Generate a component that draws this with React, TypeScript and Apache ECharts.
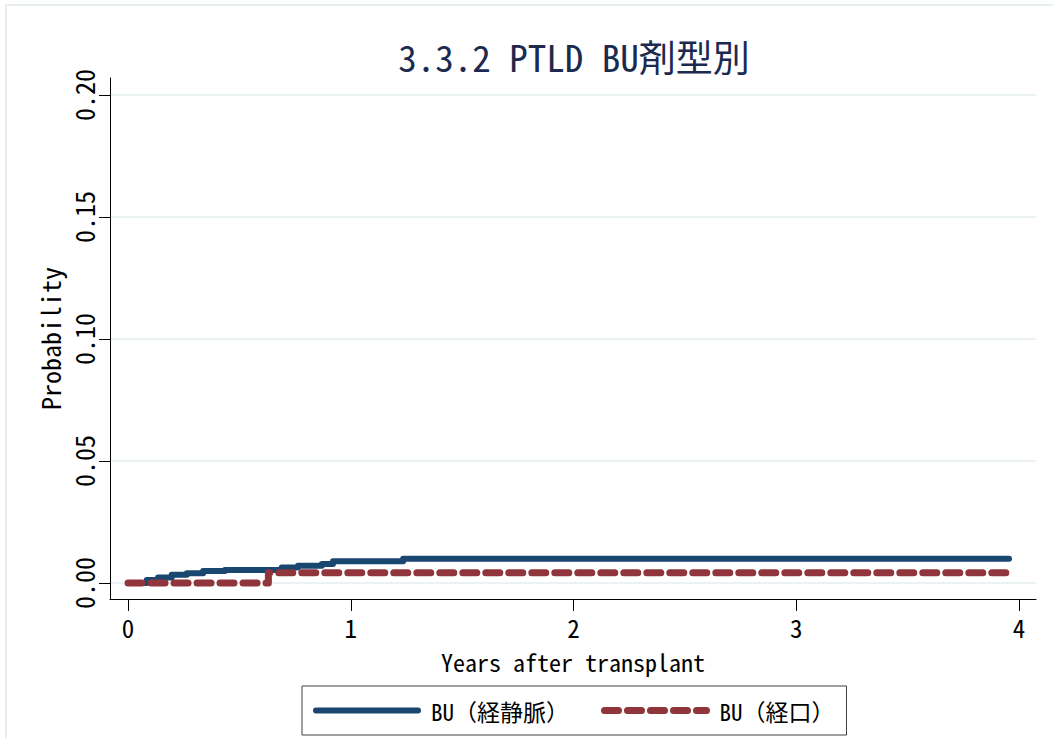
import React, { useEffect, useRef } from "react";
import * as echarts from "echarts";

const titleText = "3.3.2 PTLD BU剤型別";
const xAxisName = "Years after transplant";
const yAxisName = "Probability";
const xTicks = [0, 1, 2, 3, 4];
const yTicks = [0, 0.05, 0.1, 0.15, 0.2];

const seriesNames = ["BU（経静脈）", "BU（経口）"];

// BU (IV) cumulative incidence step function
const ivTimes = [0, 0.084, 0.135, 0.196, 0.264, 0.337, 0.435, 0.69, 0.763, 0.87, 0.92, 1.235, 3.955];
const ivValues = [0, 0.0012, 0.0022, 0.0033, 0.004, 0.0049, 0.0053, 0.0063, 0.007, 0.0078, 0.0089, 0.0099, 0.0099];

// BU (oral)
const oralTimes = [0, 0.63, 3.96];
const oralValues = [0, 0.0042, 0.0042];

const FONT = '"Noto Sans Mono CJK JP", "Noto Sans CJK JP", "Liberation Mono", monospace';
const BLUE = "#1a476f";
const RED = "#90353b";

export default function App() {
  const ref = useRef<HTMLDivElement>(null);

  useEffect(() => {
    if (!ref.current) return;
    const chart = echarts.init(ref.current, null, { renderer: "svg" });
    const iv = ivTimes.map((t, i) => [t, ivValues[i]]);
    const oral = oralTimes.map((t, i) => [t, oralValues[i]]);

    chart.setOption({
      animation: false,
      backgroundColor: "#ffffff",
      title: {
        text: titleText,
        left: 569,
        top: 32,
        textAlign: "center",
        textStyle: { fontFamily: FONT, fontSize: 37, fontWeight: "normal", color: "#1c2a4f" },
      },
      graphic: [
        {
          type: "rect",
          shape: { x: 6, y: 5, width: 1200, height: 900 },
          style: { fill: "none", stroke: "#e6eef0", lineWidth: 2 },
          silent: true,
          z: -10,
        },
      ],
      grid: { left: 110, right: 17, top: 78, bottom: 139, containLabel: false },
      xAxis: {
        type: "value",
        min: -0.081,
        max: 4.076,
        name: xAxisName,
        nameLocation: "middle",
        nameGap: 50,
        nameTextStyle: { fontFamily: FONT, fontSize: 24, lineHeight: 24, color: "#000" },
        axisLine: { show: true, onZero: false, lineStyle: { color: "#000", width: 1 } },
        axisTick: { show: true, length: 12, customValues: xTicks, lineStyle: { color: "#000" } },
        axisLabel: {
          customValues: xTicks,
          fontFamily: FONT,
          fontSize: 25,
          lineHeight: 25,
          color: "#000",
          margin: 15,
          formatter: (v: number) => String(v),
        },
        splitLine: { show: false },
      },
      yAxis: {
        type: "value",
        min: -0.0066,
        max: 0.207,
        name: yAxisName,
        nameLocation: "middle",
        nameGap: 48,
        nameRotate: 90,
        nameTextStyle: { fontFamily: FONT, fontSize: 26, color: "#000" },
        axisLine: { show: true, onZero: false, lineStyle: { color: "#000", width: 1 } },
        axisTick: { show: true, length: 11, customValues: yTicks, lineStyle: { color: "#000" } },
        axisLabel: {
          customValues: yTicks,
          rotate: 90,
          fontFamily: FONT,
          fontSize: 26,
          color: "#000",
          margin: 14,
          formatter: (v: number) => v.toFixed(2),
        },
        splitLine: { show: true, lineStyle: { color: "#eaf2f3", width: 2 } },
      },
      legend: {
        left: 302,
        bottom: 3,
        orient: "horizontal",
        borderColor: "#404040",
        borderWidth: 1,
        borderRadius: 0,
        padding: [13, 12, 13, 11],
        itemGap: 32,
        itemWidth: 102,
        itemHeight: 14,
        data: [
          {
            name: seriesNames[0],
            itemStyle: { opacity: 0 },
            lineStyle: { color: BLUE, width: 6, type: "solid", cap: "round", opacity: 1 },
          },
          {
            name: seriesNames[1],
            itemStyle: { opacity: 0 },
            lineStyle: { color: RED, width: 7, type: [14, 9], cap: "round", opacity: 1 },
          },
        ],
        textStyle: { fontFamily: FONT, fontSize: 23, color: "#000", padding: [0, 0, 0, 8] },
      },
      series: [
        {
          name: seriesNames[0],
          type: "line",
          step: "end",
          data: iv,
          showSymbol: false,
          symbol: "none",
          color: BLUE,
          lineStyle: { color: BLUE, width: 6, cap: "round", join: "round" },
          z: 3,
        },
        {
          name: seriesNames[1],
          type: "line",
          step: "end",
          data: oral,
          showSymbol: false,
          symbol: "none",
          color: RED,
          lineStyle: { color: RED, width: 7, type: [14, 9], cap: "round", join: "round" },
          z: 4,
        },
      ],
    });
    return () => chart.dispose();
  }, []);

  return (
    <div
      ref={ref}
      style={{ position: "absolute", left: 0, top: 0, width: 1053, height: 738 }}
    />
  );
}
